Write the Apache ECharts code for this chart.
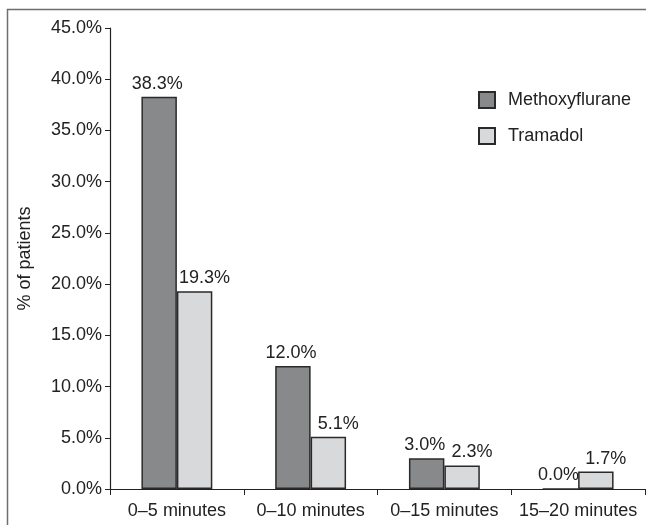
<!DOCTYPE html>
<html>
<head>
<meta charset="utf-8">
<script src="https://cdn.jsdelivr.net/npm/echarts@6/dist/echarts.min.js"></script>
<style>
html,body{margin:0;padding:0;background:#fff;}
#chart{width:646px;height:525px;}
</style>
</head>
<body>
<div id="chart"></div>
<script>
const categories = ['0–5 minutes', '0–10 minutes', '0–15 minutes', '15–20 minutes'];
const methoxyflurane = [38.3, 12.0, 3.0, 0.0];
const tramadol = [19.3, 5.1, 2.3, 1.7];
const seriesNames = ['Methoxyflurane', 'Tramadol'];

const FONT = '"Liberation Sans", Arial, sans-serif';
const FS = 18;
const pct = v => Number(v).toFixed(1) + '%';

const chart = echarts.init(document.getElementById('chart'), null, {renderer: 'canvas'});
chart.setOption({
  animation: false,
  backgroundColor: '#fff',
  textStyle: {fontFamily: FONT, color: '#222'},
  graphic: [{
    type: 'rect', silent: true, z: -1,
    shape: {x: 7.5, y: 9.5, width: 700, height: 600},
    style: {fill: 'none', stroke: '#6e6e6e', lineWidth: 1.5}
  }],
  legend: {
    orient: 'vertical', left: 473, top: 86,
    itemWidth: 16, itemHeight: 16, itemGap: 18,
    icon: 'rect',
    textStyle: {fontFamily: FONT, fontSize: FS, color: '#222', padding: [0, 0, 0, 8]},
    data: seriesNames
  },
  grid: {left: 110, right: 1, top: 28, bottom: 36, containLabel: false},
  xAxis: {
    type: 'category', data: categories,
    axisLine: {lineStyle: {color: '#222', width: 1.2}},
    axisTick: {show: true, interval: 0, length: 6, alignWithLabel: false, lineStyle: {color: '#222'}},
    axisLabel: {interval: 0, fontFamily: FONT, fontSize: FS, color: '#222', margin: 13}
  },
  yAxis: {
    type: 'value', min: 0, max: 45, interval: 5,
    name: '% of patients', nameLocation: 'middle', nameGap: 76,
    nameTextStyle: {fontFamily: FONT, fontSize: FS, color: '#222'},
    axisLine: {show: true, lineStyle: {color: '#222', width: 1.2}},
    axisTick: {show: true, length: 5, lineStyle: {color: '#222'}},
    splitLine: {show: false},
    axisLabel: {fontFamily: FONT, fontSize: FS, color: '#222', margin: 8, formatter: pct}
  },
  series: [
    {
      name: seriesNames[0], type: 'bar', data: methoxyflurane,
      barGap: '0%', barCategoryGap: '47%',
      itemStyle: {color: '#88898b', borderColor: '#2a2a2a', borderWidth: 1.5},
      label: {show: true, position: 'top', distance: 4, offset: [-2, 0], fontFamily: FONT, fontSize: FS, color: '#222',
        formatter: p => pct(p.value)}
    },
    {
      name: seriesNames[1], type: 'bar', data: tramadol,
      barGap: '0%', barCategoryGap: '47%',
      itemStyle: {color: '#d8d9da', borderColor: '#2a2a2a', borderWidth: 1.5},
      label: {show: true, position: 'top', distance: 4, offset: [10, 0], fontFamily: FONT, fontSize: FS, color: '#222',
        formatter: p => pct(p.value)}
    }
  ]
});
</script>
</body>
</html>
